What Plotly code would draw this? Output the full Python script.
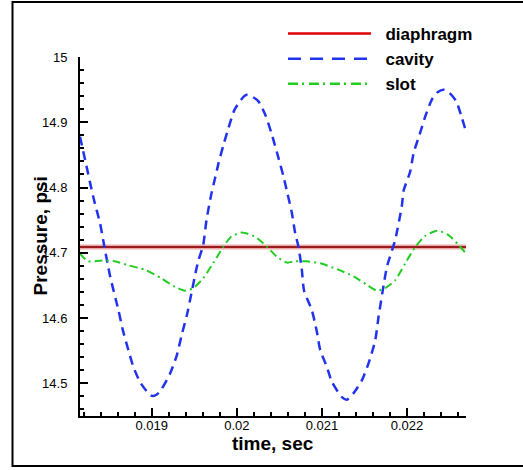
import plotly.graph_objects as go

# ---- data ----
cavity_t = [0.018156, 0.018215, 0.018313, 0.018392, 0.018439, 0.018510, 0.018608, 0.018659,
            0.018725, 0.018784, 0.018862, 0.018940, 0.019000, 0.019059, 0.019118, 0.019215,
            0.019294, 0.019353, 0.019412, 0.019466, 0.019506, 0.019545, 0.019604, 0.019643,
            0.019700, 0.019745, 0.019784, 0.019842, 0.019901, 0.019972, 0.020078, 0.020118,
            0.020170, 0.020254, 0.020333, 0.020412, 0.020490, 0.020548, 0.020595, 0.020647,
            0.020686, 0.020725, 0.020764, 0.020790, 0.020882, 0.020941, 0.020980, 0.021059,
            0.021118, 0.021235, 0.021294, 0.021372, 0.021471, 0.021549, 0.021627, 0.021666,
            0.021725, 0.021765, 0.021862, 0.021941, 0.021960, 0.022039, 0.022078, 0.022148,
            0.022215, 0.022294, 0.022360, 0.022430, 0.022500, 0.022580, 0.022647, 0.022694]
cavity_p = [14.878, 14.843, 14.785, 14.745, 14.712, 14.664, 14.612, 14.582,
            14.551, 14.525, 14.502, 14.488, 14.481, 14.483, 14.492, 14.515,
            14.543, 14.575, 14.604, 14.638, 14.664, 14.687, 14.712, 14.750,
            14.790, 14.815, 14.837, 14.865, 14.891, 14.919, 14.939, 14.942,
            14.940, 14.932, 14.912, 14.881, 14.845, 14.817, 14.791, 14.761,
            14.730, 14.709, 14.674, 14.642, 14.612, 14.579, 14.551, 14.525,
            14.502, 14.479, 14.475, 14.485, 14.505, 14.531, 14.566, 14.602,
            14.650, 14.679, 14.720, 14.773, 14.795, 14.825, 14.853, 14.881,
            14.909, 14.935, 14.946, 14.950, 14.945, 14.932, 14.906, 14.886]

slot_t = [0.018152, 0.018251, 0.018388, 0.018470, 0.018565, 0.018721, 0.018918, 0.019113,
          0.019271, 0.019388, 0.019486, 0.019604, 0.019721, 0.019839, 0.019937, 0.020054,
          0.020211, 0.020348, 0.020471, 0.020588, 0.020686, 0.020823, 0.020980, 0.021176,
          0.021372, 0.021529, 0.021647, 0.021745, 0.021862, 0.021980, 0.022098, 0.022215,
          0.022353, 0.022489, 0.022607, 0.022694]
slot_p = [14.699, 14.687, 14.688, 14.688, 14.687, 14.681, 14.674, 14.661,
          14.648, 14.642, 14.646, 14.661, 14.684, 14.709, 14.725, 14.731,
          14.725, 14.710, 14.694, 14.685, 14.687, 14.687, 14.684, 14.675,
          14.664, 14.651, 14.642, 14.646, 14.658, 14.684, 14.709, 14.726,
          14.734, 14.727, 14.712, 14.699]

diaphragm_t = [0.018156, 0.022694]
diaphragm_p = [14.709, 14.709]

series_names = ["diaphragm", "cavity", "slot"]

x_tickvals = [0.019, 0.020, 0.021, 0.022]
x_ticktext = ["0.019", "0.02", "0.021", "0.022"]
y_tickvals = [14.5, 14.6, 14.7, 14.8, 14.9, 15.0]
y_ticktext = ["14.5", "14.6", "14.7", "14.8", "14.9", "15"]

x_range = [0.018156, 0.022694]
y_range = [14.45, 15.0]

FONT = "Arial, 'Liberation Sans', sans-serif"
NB = "\u00a0\u00a0"  # small gap between legend sample and label

fig = go.Figure()

# diaphragm: halo + dark core
fig.add_trace(go.Scatter(x=diaphragm_t, y=diaphragm_p, mode="lines",
                         line=dict(color="#E8A8A8", width=5), showlegend=False, hoverinfo="skip"))
fig.add_trace(go.Scatter(x=diaphragm_t, y=diaphragm_p, mode="lines",
                         line=dict(color="#9B1C1C", width=2), showlegend=False))
fig.add_trace(go.Scatter(x=cavity_t, y=cavity_p, mode="lines",
                         line=dict(color="#2233EE", width=2.5, dash="9px,6px", shape="spline", smoothing=0.6),
                         showlegend=False))
fig.add_trace(go.Scatter(x=slot_t, y=slot_p, mode="lines",
                         line=dict(color="#22CC22", width=2, dash="8px,4px,2px,4px", shape="spline", smoothing=0.6),
                         showlegend=False))

# legend entries
fig.add_trace(go.Scatter(x=[None], y=[None], mode="lines", name=NB + series_names[0],
                         line=dict(color="#E00000", width=2.5)))
fig.add_trace(go.Scatter(x=[None], y=[None], mode="lines", name=NB + series_names[1],
                         line=dict(color="#2233EE", width=2.5, dash="13px,9px")))
fig.add_trace(go.Scatter(x=[None], y=[None], mode="lines", name=NB + series_names[2],
                         line=dict(color="#22CC22", width=2.5, dash="10px,4px,2px,5px")))

axis_common = dict(showgrid=False, zeroline=False, showline=True, linecolor="black", linewidth=2,
                   ticks="inside", ticklen=8, tickwidth=1.5, tickcolor="black", mirror=False,
                   automargin=False,
                   tickfont=dict(family=FONT, size=13, color="black"))

fig.update_xaxes(range=x_range, tickvals=x_tickvals, ticktext=x_ticktext,
                 minor=dict(dtick=0.0002, tick0=0.0, ticks="inside", ticklen=4, tickwidth=1.5,
                            tickcolor="black", showgrid=False),
                 ticklabelstandoff=-4,
                 **axis_common)
fig.update_yaxes(range=y_range, tickvals=y_tickvals, ticktext=y_ticktext,
                 minor=dict(dtick=0.02, tick0=0.0, ticks="inside", ticklen=4, tickwidth=1.5,
                            tickcolor="black", showgrid=False),
                 ticklabelstandoff=8,
                 **axis_common)

L, R, T, B = 80, 57, 57, 54
W, H = 523, 470
pw, ph = W - L - R, H - T - B

def px_x(p):
    return (p - L) / pw

def px_y(p):
    return (H - B - p) / ph

fig.update_layout(
    width=W, height=H, autosize=False,
    margin=dict(l=L, r=R, t=T, b=B, pad=0, autoexpand=False),
    paper_bgcolor="white", plot_bgcolor="white",
    font=dict(family=FONT, color="black"),
    legend=dict(x=px_x(283), y=px_y(16), xanchor="left", yanchor="top",
                bgcolor="rgba(0,0,0,0)", borderwidth=0, itemwidth=83,
                font=dict(family=FONT, size=17, weight="bold", color="black"),
                tracegroupgap=0),
    annotations=[
        dict(text="Pressure, psi", xref="paper", yref="paper", x=px_x(40), y=0.5,
             xanchor="center", yanchor="middle", textangle=-90, showarrow=False,
             font=dict(family=FONT, size=19, weight="bold", color="black")),
        dict(text="time, sec", xref="paper", yref="paper", x=0.5, y=px_y(443),
             xanchor="center", yanchor="middle", showarrow=False,
             font=dict(family=FONT, size=19, weight="bold", color="black")),
    ],
    shapes=[
        dict(type="rect", xref="paper", yref="paper", x0=px_x(12.5), x1=px_x(540),
             y0=px_y(466), y1=px_y(2), line=dict(color="black", width=2), fillcolor="rgba(0,0,0,0)",
             layer="below"),
    ],
)

fig.write_html("out.html", config={"displayModeBar": False},
               post_script="document.body.style.margin='0';document.body.style.padding='0';")
